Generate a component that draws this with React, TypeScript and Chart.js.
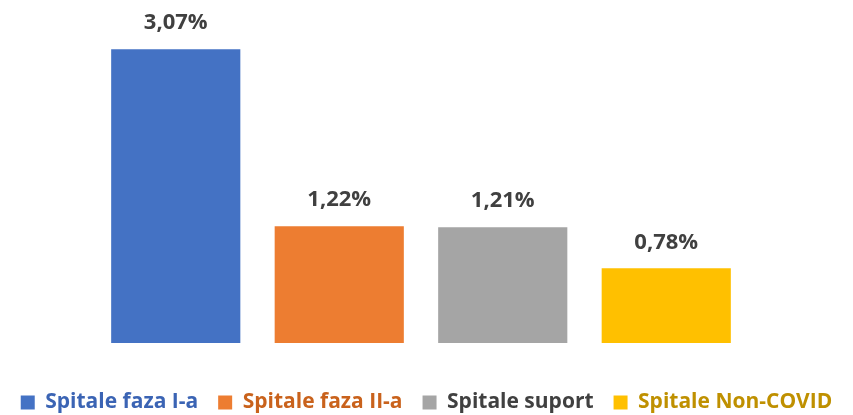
import React, { useEffect, useRef } from "react";
import { Chart, registerables } from "chart.js";

Chart.register(...registerables);

const categories = ["Spitale faza I-a", "Spitale faza II-a", "Spitale suport", "Spitale Non-COVID"];
const values = [3.07, 1.22, 1.21, 0.78];
const barColors = ["#4472C4", "#ED7D31", "#A5A5A5", "#FFC000"];
const legendTextColors = ["#3B64B4", "#C9621C", "#404040", "#BF9000"];

const FONT = "'Open Sans', sans-serif";

const valueLabels = {
  id: "valueLabels",
  afterDatasetsDraw(chart: any) {
    const ctx = chart.ctx;
    const meta = chart.getDatasetMeta(0);
    ctx.save();
    ctx.font = `bold 22px ${FONT}`;
    ctx.fillStyle = "#404040";
    ctx.textAlign = "center";
    ctx.textBaseline = "middle";
    meta.data.forEach((el: any, i: number) => {
      const v = chart.data.datasets[0].data[i] as number;
      ctx.fillText(v.toFixed(2).replace(".", ",") + "%", el.x, el.y - 26);
    });
    ctx.restore();
  },
};

export default function App() {
  const ref = useRef<HTMLCanvasElement | null>(null);
  useEffect(() => {
    if (!ref.current) return;
    const chart = new Chart(ref.current, {
      type: "bar",
      data: {
        labels: categories,
        datasets: [
          {
            data: values,
            backgroundColor: barColors,
            categoryPercentage: 1,
            barPercentage: 0.79,
          },
        ],
      },
      options: {
        animation: false,
        responsive: true,
        maintainAspectRatio: false,
        layout: { padding: { top: 8, bottom: -8, left: 0, right: 0 } },
        plugins: {
          tooltip: { enabled: false },
          legend: {
            position: "bottom",
            labels: {
              font: { family: FONT, size: 21, weight: "bold" },
              boxWidth: 14,
              boxHeight: 14,
              padding: 20,
              generateLabels: () =>
                categories.map((c, i) => ({
                  text: c,
                  fillStyle: barColors[i],
                  strokeStyle: barColors[i],
                  lineWidth: 0,
                  fontColor: legendTextColors[i],
                  hidden: false,
                  index: i,
                })),
            },
          },
        },
        scales: {
          x: {
            display: true,
            grid: { display: false },
            border: { display: false },
            ticks: { display: false },
            afterFit: (s: any) => {
              s.height = 29;
            },
          },
          y: {
            display: true,
            min: 0,
            max: 3.5,
            grid: { display: false },
            border: { display: false },
            ticks: { display: false },
            afterFit: (s: any) => {
              s.width = 94;
            },
          },
          y2: {
            display: true,
            position: "right",
            grid: { display: false },
            border: { display: false },
            ticks: { display: false },
            afterFit: (s: any) => {
              s.width = 105;
            },
          },
        },
      },
      plugins: [valueLabels],
    });
    return () => chart.destroy();
  }, []);
  return (
    <div style={{ position: "fixed", left: 0, top: 0, width: 853, height: 415, background: "#fff" }}>
      <canvas ref={ref} />
    </div>
  );
}
